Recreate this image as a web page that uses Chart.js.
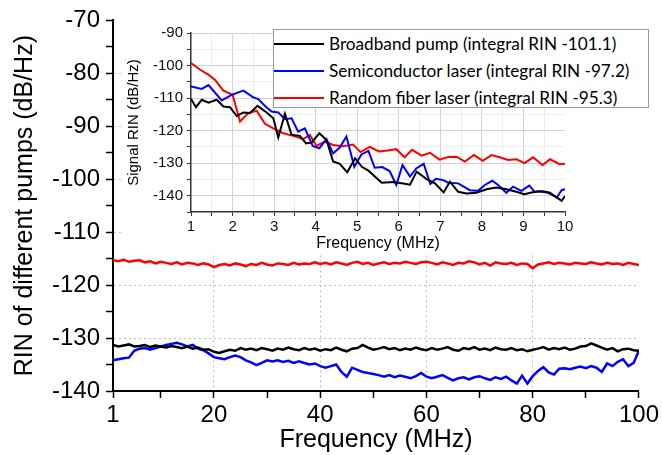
<!DOCTYPE html>
<html lang="en">
<head>
  <meta charset="UTF-8">
  <title>RIN of different pumps</title>
  <script src="https://cdn.jsdelivr.net/npm/chart.js"></script>
  <style>
    body { margin: 0; background: #fff; }
    #wrap { position: relative; width: 662px; height: 455px; }
    #mainChart { position: absolute; left: 0; top: 0; }
    /* inset sits on a white card so the main grid doesn't show through */
    #insetChart { position: absolute; left: 123px; top: 20px; background: #fff; }
    #legend {
      position: absolute; left: 273px; top: 29px; width: 374px; height: 77px;
      border: 1px solid #9a9a9a; background: #fff;
      font-family: Lato, 'Open Sans', sans-serif; font-size: 17.2px; color: #000;
    }
    #legend .row { height: 27px; display: flex; align-items: center; white-space: nowrap; }
    #legend .swatch { width: 50px; height: 0; border-top: 2.5px solid; margin-right: 5px; }
  </style>
</head>
<body>
  <div id="wrap">
    <canvas id="mainChart" width="662" height="455"></canvas>
    <canvas id="insetChart" width="530" height="233"></canvas>
    <div id="legend"></div>
  </div>

  <script>
    // ---- series names ----
    const seriesNames = [
      'Broadband pump (integral RIN -101.1)',
      'Semiconductor laser (integral RIN -97.2)',
      'Random fiber laser (integral RIN -95.3)'
    ];
    const seriesColors = ['#000000', '#0000ff', '#ff0000'];

    // ---- main plot: 1..100 MHz, one reading per MHz ----
    const mainFreq = Array.from({ length: 100 }, (_, i) => i + 1);
    const mainXTicks = [1, 10, 20, 30, 40, 50, 60, 70, 80, 90, 100];
    const mainXLabels = [1, 20, 40, 60, 80, 100];

    const mainBroadband = [
      -131.3, -131.6, -131.4, -131.2, -131.6, -131.5, -131.3, -131.7, -131.4, -131.6,
      -131.8, -131.5, -131.7, -131.9, -131.6, -132.0, -131.8, -132.2, -132.1, -132.6,
      -132.8, -132.5, -132.2, -132.4, -131.9, -132.2, -132.0, -132.3, -131.9, -132.1,
      -132.4, -132.0, -132.2, -131.8, -132.1, -132.3, -131.9, -132.2, -132.0, -132.4,
      -132.1, -132.3, -131.8, -132.2, -132.5, -132.0, -131.9, -131.3, -131.8, -132.2,
      -132.0, -131.7, -132.1, -131.9, -132.3, -132.0, -132.2, -131.8, -132.1, -132.3,
      -131.9, -132.2, -132.0, -131.7, -132.2, -132.4, -131.9, -132.1, -131.7, -132.2,
      -132.0, -132.3, -131.8, -132.1, -132.2, -131.9, -132.3, -132.1, -132.5, -132.2,
      -132.0, -131.7, -132.2, -131.9, -132.1, -131.8, -132.2, -132.0, -131.6, -131.5,
      -131.0, -131.4, -131.8, -132.2, -131.9, -132.5, -132.1, -132.0, -132.3, -132.4
    ];
    const mainSemiconductor = [
      -134.2, -134.0, -133.8, -133.7, -132.4, -132.0, -131.9, -132.2, -131.9, -131.6,
      -131.3, -131.1, -130.9, -131.2, -131.6, -131.3, -132.0, -132.3, -132.9, -133.6,
      -133.8, -134.0, -133.6, -133.3, -133.6, -134.2, -134.6, -135.1, -134.7, -134.2,
      -134.4, -134.2, -134.5, -134.3, -134.7, -134.4, -134.7, -135.0, -134.8, -135.3,
      -135.6, -135.3, -135.0, -136.4, -137.3, -135.6, -136.0, -136.4, -136.6, -136.8,
      -137.0, -137.3, -137.0, -137.4, -137.1, -137.3, -137.6, -137.2, -136.6, -137.3,
      -137.6, -137.3, -137.0, -137.5, -138.0, -137.6, -137.4, -137.8, -137.4, -137.2,
      -137.6, -137.9, -137.4, -137.7, -137.3, -138.0, -138.6, -137.1, -138.6, -137.2,
      -136.2, -135.5, -136.5, -136.9, -135.8, -135.7, -135.9, -135.6, -135.4, -135.7,
      -135.3, -135.6, -136.4, -134.8, -135.3, -134.5, -134.0, -135.3, -134.7, -132.3
    ];
    const mainRandomFiber = [
      -115.3, -115.5, -115.2, -115.6, -115.4, -115.3, -115.7, -115.5, -115.9, -115.6,
      -115.8, -116.0, -115.7, -116.1, -115.8, -115.9, -116.2, -115.9, -116.1, -116.6,
      -116.2, -116.0, -116.3, -115.9, -116.1, -116.4, -116.0, -116.2, -115.8, -116.1,
      -116.3, -115.9, -116.0, -116.2, -115.8, -116.1, -115.9, -116.0, -115.7, -116.0,
      -115.8, -116.1, -115.7, -115.9, -116.2, -115.8, -115.6, -116.0, -115.8, -116.2,
      -115.9, -115.7, -116.0, -115.8, -115.9, -115.6, -115.8, -116.0, -115.7, -115.6,
      -115.8, -116.1, -115.7, -115.9, -116.2, -115.8, -115.9, -115.5, -115.7, -116.1,
      -115.8, -116.3, -115.7, -115.9, -116.0, -115.8, -116.2, -115.9, -116.0, -116.8,
      -116.1, -115.9, -115.7, -116.0, -115.8, -115.9, -116.1, -115.8, -115.9, -116.0,
      -115.7, -115.9, -116.1, -115.8, -116.0, -115.9, -116.2, -115.8, -116.0, -116.2
    ];

    // ---- inset: signal RIN, 1..10 MHz ----
    const insetFreqBroadband = [
      1.00, 1.12, 1.26, 1.42, 1.62, 1.78, 1.94, 2.10, 2.26, 2.42, 2.60, 2.82, 2.98,
      3.10, 3.26, 3.42, 3.62, 3.77, 3.90, 4.09, 4.26, 4.42, 4.58, 4.76, 4.95, 5.11,
      5.27, 5.59, 5.87, 6.07, 6.27, 6.43, 6.67, 6.87, 7.08, 7.23, 7.43, 7.63, 7.87,
      8.11, 8.35, 8.59, 8.83, 9.02, 9.19, 9.39, 9.60, 9.80, 9.92, 10.0
    ];
    const insetRinBroadband = [
      -110.2, -112.8, -110.5, -111.4, -110.5, -112.6, -112.8, -115.5, -114.4, -114.6, -112.4, -114.4, -116.2,
      -122.1, -114.8, -121.3, -121.6, -123.9, -123.7, -120.8, -122.9, -129.5, -130.2, -132.8, -128.5, -131.1,
      -132.3, -136.0, -135.8, -136.2, -136.6, -132.6, -134.9, -136.2, -139.0, -135.7, -138.8, -139.3, -139.1,
      -138.0, -137.5, -138.0, -138.8, -139.5, -139.0, -138.6, -139.1, -140.5, -141.6, -140.1
    ];
    const insetFreqSemiconductor = [
      1.00, 1.26, 1.42, 1.74, 1.98, 2.26, 2.50, 2.62, 2.78, 2.94, 3.10, 3.26, 3.42,
      3.58, 3.74, 3.93, 4.09, 4.26, 4.42, 4.58, 4.74, 4.93, 5.10, 5.27, 5.42, 5.60,
      5.78, 5.94, 6.09, 6.27, 6.42, 6.60, 6.76, 6.89, 7.07, 7.19, 7.43, 7.71, 7.91,
      8.07, 8.25, 8.39, 8.59, 8.75, 8.95, 9.14, 9.27, 9.47, 9.64, 9.80, 9.92, 10.0
    ];
    const insetRinSemiconductor = [
      -106.4, -107.2, -106.0, -110.7, -109.0, -107.7, -109.8, -110.3, -112.4, -114.1, -114.4, -116.5, -116.2,
      -120.3, -119.3, -124.7, -125.4, -122.6, -127.0, -125.2, -121.8, -131.1, -127.3, -126.2, -131.4, -131.2,
      -132.4, -136.7, -130.6, -134.1, -131.6, -130.2, -136.4, -134.8, -135.2, -136.0, -136.2, -138.3, -138.5,
      -136.7, -135.4, -136.7, -139.1, -137.2, -138.5, -136.9, -138.8, -138.6, -139.1, -140.6, -138.3, -138.0
    ];
    const insetFreqRandomFiber = [
      1.00, 1.22, 1.42, 1.58, 1.78, 2.00, 2.18, 2.38, 2.58, 2.78, 2.98, 3.22, 3.46,
      3.70, 3.86, 4.02, 4.22, 4.42, 4.66, 4.90, 5.08, 5.30, 5.52, 5.73, 5.94, 6.14,
      6.32, 6.55, 6.75, 6.98, 7.19, 7.39, 7.59, 7.81, 8.02, 8.23, 8.43, 8.63, 8.83,
      9.03, 9.23, 9.46, 9.64, 9.87, 10.0
    ];
    const insetRinRandomFiber = [
      -99.2, -101.3, -102.8, -104.4, -107.7, -109.0, -117.2, -114.6, -113.9, -117.9, -119.3, -120.8, -121.6,
      -122.6, -121.3, -124.7, -123.4, -124.4, -124.8, -124.3, -126.6, -125.0, -126.4, -126.1, -125.7, -128.2,
      -125.9, -127.7, -126.8, -128.9, -128.1, -128.0, -129.5, -127.5, -129.3, -127.5, -128.2, -129.0, -128.8,
      -130.0, -128.2, -130.6, -128.8, -130.3, -130.2
    ];

    Chart.defaults.font.family = "'Liberation Sans', Arial, sans-serif";
    Chart.defaults.color = '#000';

    const toPoints = (xs, ys) => xs.map((x, i) => ({ x: x, y: ys[i] }));

    // ---- main chart ----
    const mainCtx = document.getElementById('mainChart').getContext('2d');
    const mainChart = new Chart(mainCtx, {
      type: 'line',
      data: {
        datasets: [
          { label: seriesNames[0], data: toPoints(mainFreq, mainBroadband), borderColor: seriesColors[0] },
          { label: seriesNames[1], data: toPoints(mainFreq, mainSemiconductor), borderColor: seriesColors[1] },
          { label: seriesNames[2], data: toPoints(mainFreq, mainRandomFiber), borderColor: seriesColors[2] }
        ]
      },
      options: {
        responsive: false,
        animation: false,
        layout: { padding: { top: 20, right: 21, left: 0, bottom: 0 } },
        elements: { point: { radius: 0 }, line: { borderWidth: 2.5, tension: 0 } },
        plugins: { legend: { display: false }, tooltip: { enabled: false } },
        scales: {
          x: {
            type: 'linear',
            min: 1,
            max: 100,
            afterBuildTicks: (scale) => { scale.ticks = mainXTicks.map(v => ({ value: v })); },
            afterFit: (scale) => { scale.height = 64; },
            ticks: {
              autoSkip: false,
              maxRotation: 0,
              padding: 3,
              font: { size: 24 },
              callback: (v) => mainXLabels.includes(v) ? String(v) : ''
            },
            grid: {
              color: (ctx) => [20, 40, 60, 80].includes(ctx.tick && ctx.tick.value) ? '#bdbdbd' : 'rgba(0,0,0,0)',
              tickBorderDash: [],
              tickColor: '#000',
              tickWidth: 1.5,
              tickLength: 7
            },
            // in v4 the grid line dash lives under border
            border: { color: '#000', width: 2, dash: [2, 3] },
            title: { display: true, text: 'Frequency (MHz)', font: { size: 25 }, padding: { top: 0, bottom: 0 } }
          },
          y: {
            min: -140,
            max: -70,
            afterFit: (scale) => { scale.width = 113; },
            ticks: {
              stepSize: 5,
              autoSkip: false,
              padding: 6,
              font: { size: 24 },
              callback: (v) => v % 10 === 0 ? String(v) : ''
            },
            grid: {
              color: (ctx) => {
                const v = ctx.tick && ctx.tick.value;
                return (v % 10 === 0 && v > -140 && v < -70) ? '#bdbdbd' : 'rgba(0,0,0,0)';
              },
              tickBorderDash: [],
              tickColor: '#000',
              tickWidth: 1.5,
              tickLength: 7
            },
            border: { color: '#000', width: 2, dash: [2, 3] },
            title: { display: true, text: 'RIN of different pumps (dB/Hz)', font: { size: 25 }, padding: { top: 10 } }
          }
        }
      }
    });

    // ---- inset chart ----
    const insetCtx = document.getElementById('insetChart').getContext('2d');
    const insetChart = new Chart(insetCtx, {
      type: 'line',
      data: {
        datasets: [
          { label: seriesNames[0], data: toPoints(insetFreqBroadband, insetRinBroadband), borderColor: seriesColors[0] },
          { label: seriesNames[1], data: toPoints(insetFreqSemiconductor, insetRinSemiconductor), borderColor: seriesColors[1] },
          { label: seriesNames[2], data: toPoints(insetFreqRandomFiber, insetRinRandomFiber), borderColor: seriesColors[2] }
        ]
      },
      options: {
        responsive: false,
        animation: false,
        layout: { padding: { top: 13, right: 88, left: 0, bottom: 0 } },
        elements: { point: { radius: 0 }, line: { borderWidth: 2, tension: 0 } },
        plugins: { legend: { display: false }, tooltip: { enabled: false } },
        scales: {
          x: {
            type: 'linear',
            min: 1,
            max: 10,
            afterFit: (scale) => { scale.height = 41; },
            ticks: {
              stepSize: 0.5,
              autoSkip: false,
              maxRotation: 0,
              padding: 2,
              color: '#111',
              font: { size: 15 },
              callback: (v) => Number.isInteger(v) ? String(v) : ''
            },
            grid: {
              color: (ctx) => {
                const v = ctx.tick && ctx.tick.value;
                if (v === 1 || v === 10) return 'rgba(0,0,0,0)';
                return Number.isInteger(v) ? '#d2d2d2' : '#ededed';
              },
              tickColor: '#333',
              tickWidth: 1,
              tickLength: 4
            },
            border: { color: '#333', width: 1.5 },
            title: { display: true, text: 'Frequency (MHz)', font: { size: 16 }, padding: { top: 0, bottom: 0 } }
          },
          y: {
            min: -145,
            max: -90,
            afterFit: (scale) => { scale.width = 68; },
            ticks: {
              stepSize: 5,
              autoSkip: false,
              padding: 4,
              color: '#111',
              font: { size: 15 },
              callback: (v) => v % 10 === 0 ? String(v) : ''
            },
            grid: {
              color: (ctx) => {
                const v = ctx.tick && ctx.tick.value;
                if (v === -145) return 'rgba(0,0,0,0)';
                return v % 10 === 0 ? '#d2d2d2' : '#ededed';
              },
              tickColor: '#333',
              tickWidth: 1,
              tickLength: 4
            },
            border: { color: '#333', width: 1.5 },
            title: { display: true, text: 'Signal RIN (dB/Hz)', font: { size: 15 }, padding: { top: 2 } }
          }
        }
      }
    });

    // legend box drawn from the inset datasets
    const legendBox = document.getElementById('legend');
    insetChart.data.datasets.forEach(ds => {
      const row = document.createElement('div');
      row.className = 'row';
      row.innerHTML = `<span class="swatch" style="border-color:${ds.borderColor}"></span><span>${ds.label}</span>`;
      legendBox.appendChild(row);
    });
  </script>
</body>
</html>
